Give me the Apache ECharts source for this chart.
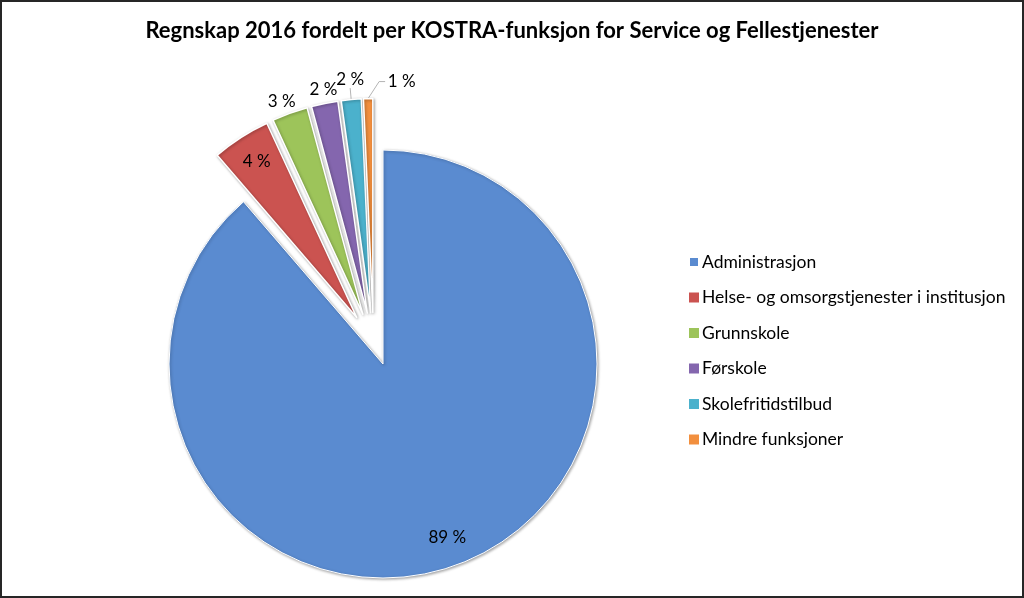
<!DOCTYPE html>
<html>
<head>
<meta charset="utf-8">
<script src="https://cdn.jsdelivr.net/npm/echarts@6/dist/echarts.min.js"></script>
<style>
  html, body { margin: 0; padding: 0; background: #fff; }
  #chart { width: 1024px; height: 598px; box-sizing: border-box; border: 2px solid #262626; }
</style>
</head>
<body>
<div id="chart"></div>
<script>
const titleText = 'Regnskap 2016 fordelt per KOSTRA-funksjon for Service og Fellestjenester';
const categories = ['Administrasjon', 'Helse- og omsorgstjenester i institusjon', 'Grunnskole', 'Førskole', 'Skolefritidstilbud', 'Mindre funksjoner'];
const shares = [88.7, 4.4, 2.7, 2.0, 1.5, 0.7];
const exploded = [false, true, true, true, true, true];
const labelPlacement = ['inside', 'inside', 'outside', 'outside', 'outside', 'outside'];
const leaderLine = [false, false, false, false, true, true];
const colors = ['#5A8BD0', '#CB5350', '#9DC45A', '#8466AE', '#4BB1CC', '#F28F3E'];

const FONT = 'Lato, "Open Sans", sans-serif';
const LABEL_SIZE = 17;
const fmt = p => Math.round(p.percent) + ' %';
const hidden = { color: 'rgba(0,0,0,0)', borderColor: 'rgba(0,0,0,0)', borderWidth: 0, shadowBlur: 0, shadowColor: 'rgba(0,0,0,0)' };
const shade = { shadowBlur: 3, shadowColor: 'rgba(0,0,0,0.35)', shadowOffsetX: 1, shadowOffsetY: 1 };

// label-line geometry per slice (outside labels): [length along bisector, text distance, text align]
const outsideLine = { 2: [3.4, -7, 'right'], 3: [5.5, 0, 'center'], 4: [11.5, 0, 'center'], 5: [17, -20, 'left'] };

const CENTER_MAIN = [381, 362];
const CENTER_EXPLODED = [371.5, 341.5];
const R = 214;
const RING = [150, 214];

const chart = echarts.init(document.getElementById('chart'), null, { renderer: 'canvas' });

function baseSeries(center, radius, offset) {
  return {
    type: 'pie',
    center,
    radius,
    startAngle: 90,
    clockwise: true,
    selectedMode: offset ? 'multiple' : false,
    selectedOffset: offset,
    avoidLabelOverlap: false,
    silent: true,
    animation: false,
    emphasis: { disabled: true }
  };
}

// un-exploded part (Administrasjon)
const mainSeries = Object.assign(baseSeries(CENTER_MAIN, R, 0), {
  label: { show: false },
  labelLine: { show: false },
  data: categories.map((name, i) => ({
    name, value: shares[i],
    itemStyle: exploded[i] ? hidden : Object.assign({ color: colors[i], borderColor: '#fff', borderWidth: 1 }, shade)
  }))
});
const mainLabels = Object.assign(baseSeries(CENTER_MAIN, RING, 0), {
  itemStyle: hidden,
  label: { position: 'inside', formatter: fmt, fontFamily: FONT, fontSize: LABEL_SIZE, color: '#000' },
  labelLine: { show: false },
  data: categories.map((name, i) => ({
    name, value: shares[i],
    label: { show: !exploded[i] && labelPlacement[i] === 'inside' }
  }))
});

// exploded slices
const explodedSeries = Object.assign(baseSeries(CENTER_EXPLODED, R, 31), {
  label: { formatter: fmt, fontFamily: FONT, fontSize: LABEL_SIZE, color: '#000' },
  labelLayout: function (p) {
    const g = outsideLine[p.dataIndex];
    if (!g) return {};
    if (g[2] === 'left' && p.labelLinePoints) {
      const a = p.labelLinePoints[0], b = p.labelLinePoints[1];
      return {
        align: 'left', verticalAlign: 'middle',
        labelLinePoints: [a, [a[0] + 11, b[1]], [a[0] + 17, b[1]]]
      };
    }
    return { align: g[2], verticalAlign: 'bottom' };
  },
  data: categories.map((name, i) => {
    const item = { name, value: shares[i], selected: exploded[i] };
    if (!exploded[i]) {
      item.itemStyle = hidden;
      item.label = { show: false };
      item.labelLine = { show: false };
    } else {
      item.itemStyle = Object.assign({ color: colors[i], borderColor: '#fff', borderWidth: 1.5 }, shade);
      if (labelPlacement[i] === 'outside') {
        const g = outsideLine[i];
        item.label = { show: true, position: 'outside', distanceToLabelLine: g[1] };
        item.labelLine = { show: leaderLine[i], length: g[0], length2: 0, lineStyle: { color: '#b4b4b4', width: 1, shadowBlur: 0 } };
      } else {
        item.label = { show: false };
        item.labelLine = { show: false };
      }
    }
    return item;
  })
});
const explodedLabels = Object.assign(baseSeries(CENTER_EXPLODED, RING, 31), {
  itemStyle: hidden,
  label: { position: 'inside', formatter: fmt, fontFamily: FONT, fontSize: LABEL_SIZE, color: '#000' },
  labelLine: { show: false },
  data: categories.map((name, i) => ({
    name, value: shares[i], selected: exploded[i],
    label: { show: exploded[i] && labelPlacement[i] === 'inside' }
  }))
});

chart.setOption({
  animation: false,
  title: {
    text: titleText,
    left: 'center',
    top: 13,
    textStyle: { fontFamily: FONT, fontWeight: 'bold', fontSize: 22, color: '#000' }
  },
  legend: {
    orient: 'vertical',
    left: 681,
    top: 246,
    icon: 'rect',
    itemWidth: 10,
    itemHeight: 10,
    itemGap: 17.5,
    selectedMode: false,
    data: categories.map((name, i) => ({ name, itemStyle: { color: colors[i] } })),
    textStyle: { fontFamily: FONT, fontSize: 17.5, color: '#000', padding: [0, 0, 0, -2] }
  },
  series: [mainSeries, explodedSeries, mainLabels, explodedLabels]
});
</script>
</body>
</html>
